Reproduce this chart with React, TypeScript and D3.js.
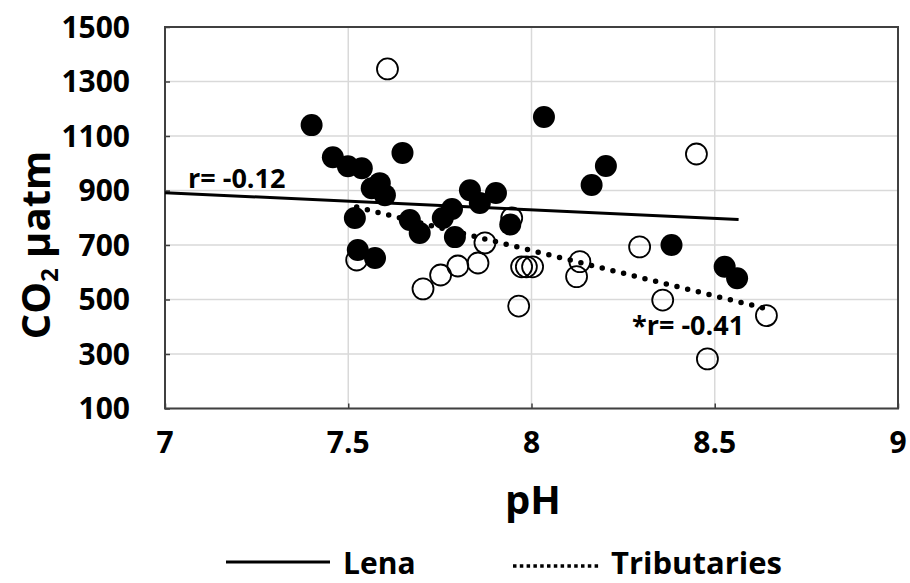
import React, { useEffect, useRef } from 'react';
import * as d3 from 'd3';

// Lena (filled circles)
const lenaPH = [7.40, 7.458, 7.499, 7.537, 7.586, 7.564, 7.60, 7.518, 7.526, 7.573, 7.648, 7.668, 7.695, 7.758, 7.783, 7.791, 7.832, 7.859, 7.903, 7.942, 8.034, 8.164, 8.203, 8.382, 8.527, 8.561];
const lenaCO2 = [1140, 1022, 989, 982, 927, 908, 883, 799, 682, 652, 1038, 792, 744, 799, 832, 729, 901, 854, 891, 775, 1170, 920, 990, 700, 620, 578];

// Tributaries (open circles)
const tribPH = [7.607, 8.450, 7.523, 7.704, 7.752, 7.799, 7.854, 7.873, 7.965, 7.946, 7.973, 7.986, 8.003, 8.132, 8.123, 8.295, 8.358, 8.641, 8.480];
const tribCO2 = [1346, 1034, 645, 539, 590, 623, 634, 708, 476, 799, 620, 620, 620, 639, 584, 693, 498, 441, 282];

// trend lines (start, end)
const lenaTrendPH = [7.0, 8.565];
const lenaTrendCO2 = [892, 794];
const tribTrendPH = [7.523, 8.641];
const tribTrendCO2 = [839, 466];

const xTicks = [7, 7.5, 8, 8.5, 9];
const yTicks = [100, 300, 500, 700, 900, 1100, 1300, 1500];

const FONT = '"Open Sans", sans-serif';

function App() {
  const ref = useRef<SVGSVGElement>(null);

  useEffect(() => {
    const svg = d3.select(ref.current);
    svg.selectAll('*').remove();

    const left = 165, right = 898, top = 27, bottom = 408.5;
    const x = d3.scaleLinear().domain([7, 9]).range([left, right]);
    const y = d3.scaleLinear().domain([100, 1500]).range([bottom, top]);

    // gridlines
    svg.append('g').selectAll('line.h')
      .data(yTicks)
      .enter().append('line')
      .attr('x1', left).attr('x2', right)
      .attr('y1', d => y(d)).attr('y2', d => y(d))
      .attr('stroke', '#d9d9d9').attr('stroke-width', 1.5);
    svg.append('g').selectAll('line.v')
      .data(xTicks)
      .enter().append('line')
      .attr('y1', top).attr('y2', bottom)
      .attr('x1', d => x(d)).attr('x2', d => x(d))
      .attr('stroke', '#d9d9d9').attr('stroke-width', 1.5);

    // axes with inner ticks
    const yAxis = svg.append('g')
      .attr('transform', `translate(${left},0)`)
      .call(d3.axisRight(y).tickValues(yTicks).tickSize(5).tickFormat(() => ''));
    yAxis.select('.domain').remove();
    yAxis.selectAll('line').attr('stroke', '#404040').attr('stroke-width', 1.5);

    const xAxis = svg.append('g')
      .attr('transform', `translate(0,${bottom})`)
      .call(d3.axisTop(x).tickValues(xTicks).tickSize(5).tickFormat(() => ''));
    xAxis.select('.domain').remove();
    xAxis.selectAll('line').attr('stroke', '#404040').attr('stroke-width', 1.5);

    // frame
    svg.append('rect')
      .attr('x', left).attr('y', top)
      .attr('width', right - left).attr('height', bottom - top)
      .attr('fill', 'none').attr('stroke', '#404040').attr('stroke-width', 2);

    // tick labels
    svg.append('g').selectAll('text')
      .data(yTicks)
      .enter().append('text')
      .attr('x', 130).attr('y', d => y(d) + 10.5)
      .attr('text-anchor', 'end')
      .attr('font-family', FONT).attr('font-weight', 700).attr('font-size', 30)
      .text(d => d);
    svg.append('g').selectAll('text')
      .data(xTicks)
      .enter().append('text')
      .attr('x', d => x(d)).attr('y', 453)
      .attr('text-anchor', 'middle')
      .attr('font-family', FONT).attr('font-weight', 700).attr('font-size', 30)
      .text(d => d);

    // points
    svg.append('g').selectAll('circle')
      .data(tribPH)
      .enter().append('circle')
      .attr('cx', d => x(d))
      .attr('cy', (d, i) => y(tribCO2[i]))
      .attr('r', 10.5)
      .attr('fill', 'none')
      .attr('stroke', '#000').attr('stroke-width', 1.8);

    svg.append('g').selectAll('circle')
      .data(lenaPH)
      .enter().append('circle')
      .attr('cx', d => x(d))
      .attr('cy', (d, i) => y(lenaCO2[i]))
      .attr('r', 11)
      .attr('fill', '#000');

    // trend lines
    const line = d3.line<number>().x(d => x(d[0])).y(d => y(d[1]));
    svg.append('path')
      .datum(lenaTrendPH.map((d, i) => [d, lenaTrendCO2[i]]))
      .attr('d', line as any)
      .attr('fill', 'none').attr('stroke', '#000').attr('stroke-width', 3);
    svg.append('path')
      .datum(tribTrendPH.map((d, i) => [d, tribTrendCO2[i]]))
      .attr('d', line as any)
      .attr('fill', 'none').attr('stroke', '#000').attr('stroke-width', 5.5)
      .attr('stroke-linecap', 'round').attr('stroke-dasharray', '0 11');

    // r labels
    svg.append('text')
      .attr('x', 188).attr('y', 188)
      .attr('font-family', FONT).attr('font-weight', 700).attr('font-size', 27)
      .text('r= -0.12');
    svg.append('text')
      .attr('x', 632).attr('y', 335)
      .attr('font-family', FONT).attr('font-weight', 700).attr('font-size', 27)
      .text('*r= -0.41');

    // axis titles
    svg.append('text')
      .attr('x', 533).attr('y', 514)
      .attr('text-anchor', 'middle')
      .attr('font-family', FONT).attr('font-weight', 700).attr('font-size', 40)
      .text('pH');

    const yt = svg.append('text')
      .attr('transform', 'translate(50,245) rotate(-90)')
      .attr('text-anchor', 'middle')
      .attr('font-family', FONT).attr('font-weight', 700).attr('font-size', 40);
    yt.append('tspan').text('CO');
    yt.append('tspan').attr('font-size', 24).attr('dy', 8).text('2');
    yt.append('tspan').attr('dy', -8).text(' µatm');

    // legend
    svg.append('line')
      .attr('x1', 226).attr('x2', 330).attr('y1', 562).attr('y2', 562)
      .attr('stroke', '#000').attr('stroke-width', 3);
    svg.append('text')
      .attr('x', 343).attr('y', 574)
      .attr('font-family', FONT).attr('font-weight', 700).attr('font-size', 30)
      .text('Lena');
    svg.append('line')
      .attr('x1', 513).attr('x2', 600).attr('y1', 566).attr('y2', 566)
      .attr('stroke', '#000').attr('stroke-width', 3.5)
      .attr('stroke-dasharray', '3.5 3.3');
    svg.append('text')
      .attr('x', 611).attr('y', 574)
      .attr('font-family', FONT).attr('font-weight', 700).attr('font-size', 31)
      .text('Tributaries');
  }, []);

  return (
    <svg ref={ref} width="910" height="583" style={{ position: 'absolute', left: 0, top: 0, background: '#fff' }}></svg>
  );
}

export default App;
